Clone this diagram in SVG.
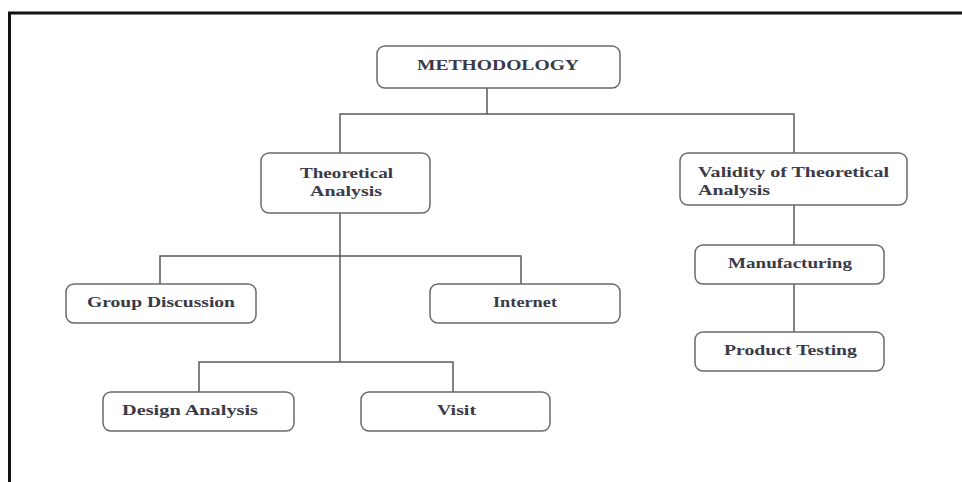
<svg xmlns="http://www.w3.org/2000/svg" width="962" height="482" viewBox="0 0 962 482">
<style>
.box{fill:#fff;stroke:#6a6a6a;stroke-width:1.5}
.t{font-family:"Liberation Serif","Times New Roman",serif;font-weight:bold;font-size:14.5px;fill:#3a3a48}
.c{fill:none;stroke:#5a5a5a;stroke-width:1.5}
</style>
<rect width="962" height="482" fill="#fff"/>
<path d="M9.5 482 V13 H962" fill="none" stroke="#111" stroke-width="3"/>
<g id="connectors" class="c">
<path d="M487 88 V114 M340 153 V114 H794 V153"/>
<path d="M340 213 V362"/>
<path d="M160 284 V256 H521 V284"/>
<path d="M199 392 V362 H453 V392"/>
<path d="M794 205 V245 M794 284 V332"/>
</g>
<g id="methodology"><rect class="box" x="377" y="46" width="243" height="42" rx="8"/><text class="t" x="417" y="70" textLength="162" lengthAdjust="spacingAndGlyphs">METHODOLOGY</text></g>
<g id="theoretical"><rect class="box" x="261" y="153" width="169" height="60" rx="8"/><text class="t" x="300" y="178" textLength="93" lengthAdjust="spacingAndGlyphs">Theoretical</text><text class="t" x="310" y="196" textLength="72" lengthAdjust="spacingAndGlyphs">Analysis</text></g>
<g id="validity"><rect class="box" x="680" y="153" width="227" height="52" rx="8"/><text class="t" x="698" y="177" textLength="191" lengthAdjust="spacingAndGlyphs">Validity of Theoretical</text><text class="t" x="698" y="195" textLength="72" lengthAdjust="spacingAndGlyphs">Analysis</text></g>
<g id="group"><rect class="box" x="66" y="284" width="190" height="39" rx="8"/><text class="t" x="87" y="307" textLength="148" lengthAdjust="spacingAndGlyphs">Group Discussion</text></g>
<g id="internet"><rect class="box" x="430" y="284" width="190" height="39" rx="8"/><text class="t" x="493" y="307" textLength="64" lengthAdjust="spacingAndGlyphs">Internet</text></g>
<g id="design"><rect class="box" x="103" y="392" width="191" height="39" rx="8"/><text class="t" x="122" y="415" textLength="136" lengthAdjust="spacingAndGlyphs">Design Analysis</text></g>
<g id="visit"><rect class="box" x="361" y="392" width="189" height="39" rx="8"/><text class="t" x="437" y="415" textLength="39" lengthAdjust="spacingAndGlyphs">Visit</text></g>
<g id="manufacturing"><rect class="box" x="695" y="245" width="189" height="39" rx="8"/><text class="t" x="728" y="268" textLength="124" lengthAdjust="spacingAndGlyphs">Manufacturing</text></g>
<g id="testing"><rect class="box" x="695" y="332" width="189" height="39" rx="8"/><text class="t" x="724" y="355" textLength="133" lengthAdjust="spacingAndGlyphs">Product Testing</text></g>
</svg>
